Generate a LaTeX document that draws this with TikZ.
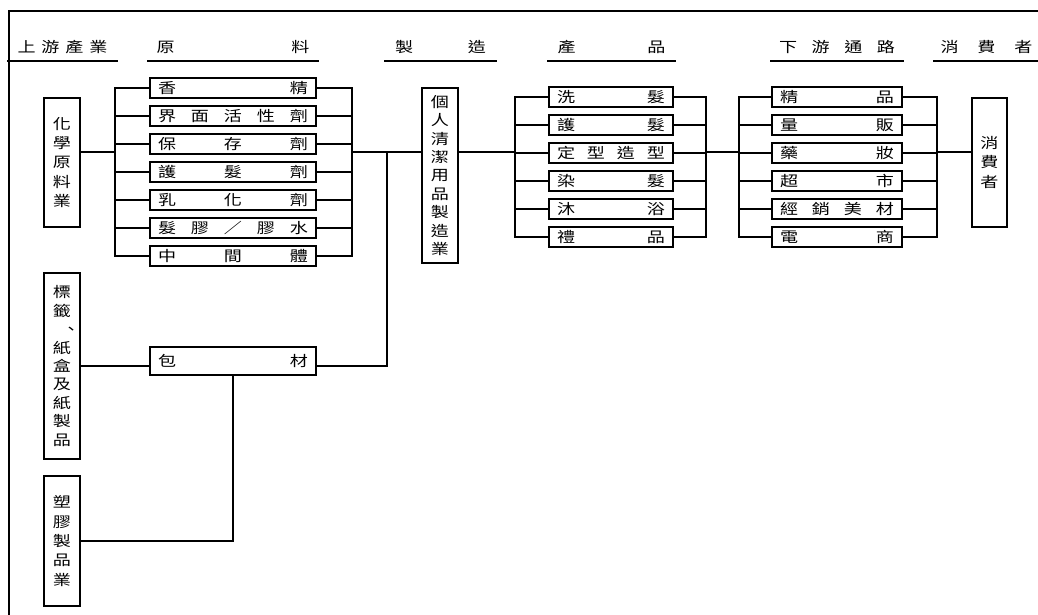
\documentclass[tikz,border=0pt]{standalone}
\usepackage{fontspec}
\newfontfamily\cjk[FakeStretch=1.25]{Noto Sans CJK TC}
\usetikzlibrary{positioning}

\begin{document}
\begin{tikzpicture}[
    x=1bp, y=-1bp,
    line width=2bp, line cap=rect,
    node distance=28bp,
    every node/.style={font=\cjk\fontsize{14.5}{17}\selectfont, inner sep=0pt},
    item/.style={draw, line width=2bp, minimum height=20bp, text width=#1, align=left, inner xsep=8bp},
    tall/.style={draw, line width=2bp, minimum width=36bp, text width=20pt, align=center, font=\cjk\fontsize{14.5}{#1}\selectfont},
    tall/.default=19.5,
    head/.style 2 args={minimum width=#1, text width=#2, minimum height=26bp, align=left}
]
\useasboundingbox (0,0) rectangle (1038,615);

% frame
\draw (1038,11) -| (9,615);

% headings
\node[head={107bp}{90bp}] (hUp) at (62.5,47) {上\hfill 游\hfill 產\hfill 業};
\node[head={168bp}{153bp}] (hRaw) at (233,47) {原\hfill 料};
\node[head={109bp}{91bp}] (hMfg) at (440.5,47) {製\hfill 造};
\node[head={125bp}{108bp}] (hProd) at (611.5,47) {產\hfill 品};
\node[head={130bp}{116bp}] (hChan) at (837,47) {下\hfill 游\hfill 通\hfill 路};
\node[head={103bp}{92bp}] (hUser) at (986.5,47) {消\hfill 費\hfill 者};

\draw (hUp.south west) -- (hUp.south east)
      (hRaw.south west) -- (hRaw.south east)
      (hMfg.south west) -- (hMfg.south east)
      (hProd.south west) -- (hProd.south east)
      (hChan.south west) -- (hChan.south east)
      (hUser.south west) -- (hUser.south east);

% upstream
\node[tall, minimum height=129bp] (chem) at (62,162.5) {化\\學\\原\\料\\業};
\node[tall=18.5, minimum height=186bp] (label) at (62,366) {標\\籤\\\hspace*{10pt}、\\紙\\盒\\及\\紙\\製\\品};
\node[tall, minimum height=130bp] (plastic) at (62,541) {塑\\膠\\製\\品\\業};

% raw materials
\node[item=150bp] (m1) at (233,88) {香\hfill 精};
\node[item=150bp, below of=m1] (m2) {界\hfill 面\hfill 活\hfill 性\hfill 劑};
\node[item=150bp, below of=m2] (m3) {保\hfill 存\hfill 劑};
\node[item=150bp, below of=m3] (m4) {護\hfill 髮\hfill 劑};
\node[item=150bp, below of=m4] (m5) {乳\hfill 化\hfill 劑};
\node[item=150bp, below of=m5] (m6) {髮\hfill 膠\hfill ／\hfill 膠\hfill 水};
\node[item=150bp, below of=m6] (m7) {中\hfill 間\hfill 體};
\node[item=150bp, minimum height=28bp] (pkg) at (233,361) {包\hfill 材};

% manufacturing
\node[tall=18.5, minimum height=175bp] (mfg) at (440,175.5) {個\\人\\清\\潔\\用\\品\\製\\造\\業};

% products
\node[item=108bp] (p1) at (611,97) {洗\hfill 髮};
\node[item=108bp, below of=p1] (p2) {護\hfill 髮};
\node[item=108bp, below of=p2] (p3) {定\hfill 型\hfill 造\hfill 型};
\node[item=108bp, below of=p3] (p4) {染\hfill 髮};
\node[item=108bp, below of=p4] (p5) {沐\hfill 浴};
\node[item=108bp, below of=p5] (p6) {禮\hfill 品};

% channels
\node[item=114bp] (c1) at (837,97) {精\hfill 品};
\node[item=114bp, below of=c1] (c2) {量\hfill 販};
\node[item=114bp, below of=c2] (c3) {藥\hfill 妝};
\node[item=114bp, below of=c3] (c4) {超\hfill 市};
\node[item=114bp, below of=c4] (c5) {經\hfill 銷\hfill 美\hfill 材};
\node[item=114bp, below of=c5] (c6) {電\hfill 商};

% consumer
\node[tall=20, minimum height=129bp, minimum width=35bp] (user) at (989.5,162.5) {消\\費\\者};

% junctions
\coordinate (rawL) at (115,152);
\coordinate (rawR) at (352,152);
\coordinate (pkgJ) at (387,152);
\coordinate (prodL) at (515,152);
\coordinate (prodR) at (706,152);
\coordinate (chanL) at (739,152);
\coordinate (chanR) at (937,152);

% raw material bus
\draw (m1.west -| rawL) -- (m7.west -| rawL);
\draw (m1.east -| rawR) -- (m7.east -| rawR);
\path
(m1.west) edge (m1.west -| rawL)
(m2.west) edge (m2.west -| rawL)
(m3.west) edge (m3.west -| rawL)
(m4.west) edge (m4.west -| rawL)
(m5.west) edge (m5.west -| rawL)
(m6.west) edge (m6.west -| rawL)
(m7.west) edge (m7.west -| rawL)
(m1.east) edge (m1.east -| rawR)
(m2.east) edge (m2.east -| rawR)
(m3.east) edge (m3.east -| rawR)
(m4.east) edge (m4.east -| rawR)
(m5.east) edge (m5.east -| rawR)
(m6.east) edge (m6.east -| rawR)
(m7.east) edge (m7.east -| rawR);

% product bus
\draw (p1.west -| prodL) -- (p6.west -| prodL);
\draw (p1.east -| prodR) -- (p6.east -| prodR);
\path
(p1.west) edge (p1.west -| prodL)
(p2.west) edge (p2.west -| prodL)
(p3.west) edge (p3.west -| prodL)
(p4.west) edge (p4.west -| prodL)
(p5.west) edge (p5.west -| prodL)
(p6.west) edge (p6.west -| prodL)
(p1.east) edge (p1.east -| prodR)
(p2.east) edge (p2.east -| prodR)
(p3.east) edge (p3.east -| prodR)
(p4.east) edge (p4.east -| prodR)
(p5.east) edge (p5.east -| prodR)
(p6.east) edge (p6.east -| prodR);

% channel bus
\draw (c1.west -| chanL) -- (c6.west -| chanL);
\draw (c1.east -| chanR) -- (c6.east -| chanR);
\path
(c1.west) edge (c1.west -| chanL)
(c2.west) edge (c2.west -| chanL)
(c3.west) edge (c3.west -| chanL)
(c4.west) edge (c4.west -| chanL)
(c5.west) edge (c5.west -| chanL)
(c6.west) edge (c6.west -| chanL)
(c1.east) edge (c1.east -| chanR)
(c2.east) edge (c2.east -| chanR)
(c3.east) edge (c3.east -| chanR)
(c4.east) edge (c4.east -| chanR)
(c5.east) edge (c5.east -| chanR)
(c6.east) edge (c6.east -| chanR);

% main line
\draw (chem.east |- rawL) -- (rawL);
\draw (rawR) -- (mfg.west |- rawR);
\draw (mfg.east |- prodL) -- (prodL);
\draw (prodR) -- (chanL);
\draw (chanR) -- (user.west |- chanR);

% packaging
\draw (label.east) -- (label.east -| pkg.west);
\draw (pkgJ) |- (pkg.east |- label.east);
\draw (pkg.south) |- (plastic.east);

\end{tikzpicture}
\end{document}
